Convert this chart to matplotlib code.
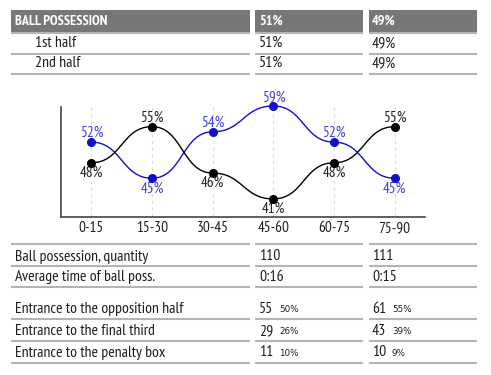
import numpy as np
import matplotlib
matplotlib.use("Agg")
import matplotlib.pyplot as plt
from matplotlib import font_manager
from matplotlib.font_manager import FontProperties
from matplotlib.path import Path
from matplotlib.patches import PathPatch

# ---- data ----
periods = ["0-15", "15-30", "30-45", "45-60", "60-75", "75-90"]
team_a = [52, 45, 54, 59, 52, 45]   # blue
team_b = [48, 55, 46, 41, 48, 55]   # black

header = ["BALL POSSESSION", "51%", "49%"]
half_rows = [["1st half", "51%", "49%"], ["2nd half", "51%", "49%"]]
stat_rows = [["Ball possession, quantity", "110", "111"],
             ["Average time of ball poss.", "0:16", "0:15"]]
entr_labels = ["Entrance to the opposition half", "Entrance to the final third",
               "Entrance to the penalty box"]
entr_a = [55, 29, 11]
entr_a_pct = ["50%", "26%", "10%"]
entr_b = [61, 43, 10]
entr_b_pct = ["55%", "39%", "9%"]

# ---- font choice ----
ttf = font_manager.fontManager.ttflist
WMAP = {"normal": 400, "regular": 400, "book": 400, "bold": 700, "medium": 500,
        "light": 300, "semibold": 600, "demibold": 600}

def wnum(w):
    if isinstance(w, (int, float)):
        return int(w)
    return WMAP.get(str(w).lower(), 400)

prefs = ["PT Sans Narrow", "Ubuntu Condensed", "Roboto Condensed", "Fira Sans Condensed",
         "Asap Condensed", "Archivo Narrow", "Liberation Sans Narrow"]
reg_file = bold_file = None
for nm in prefs:
    cands = [f for f in ttf if f.name == nm and f.style == "normal"]
    regs = [f for f in cands if wnum(f.weight) == 400]
    if regs:
        reg_file = regs[0].fname
        bolds = sorted([f for f in cands if wnum(f.weight) >= 600], key=lambda f: wnum(f.weight))
        bold_file = bolds[0].fname if bolds else None
        break

def FP(size, bold=False):
    if bold and bold_file:
        return FontProperties(fname=bold_file, size=size)
    if reg_file and not bold:
        return FontProperties(fname=reg_file, size=size)
    return FontProperties(family="DejaVu Sans", size=size * 0.8,
                          weight="bold" if bold else "normal")

def FPsmall(size):
    return FontProperties(family="DejaVu Sans", size=size)

W, H = 491, 375
fig = plt.figure(figsize=(W / 100, H / 100), dpi=100)

tab = fig.add_axes([0, 0, 1, 1])
tab.set_xlim(0, W)
tab.set_ylim(H, 0)
tab.axis("off")

cols = [(11, 250), (255, 363), (369, 477)]
text_x = [15, 259, 372]
txtc = "#1e1e1e"
linec = "#b4b4b4"
fs = 11.3

def hline(y):
    for x0, x1 in cols:
        tab.plot([x0, x1], [y, y], color=linec, lw=1.5, solid_capstyle="butt")

for (x0, x1), tx, t in zip(cols, text_x, header):
    tab.add_patch(plt.Rectangle((x0, 10), x1 - x0, 22, color="#777777", lw=0))
    tab.text(tx, 21.5, t, color="white", fontproperties=FP(10.2, True), va="center", ha="left")
hline(33)
for row, y, ly in zip(half_rows, [43, 63], [53.5, 74]):
    tab.text(35, y, row[0], color=txtc, fontproperties=FP(fs), va="center")
    tab.text(text_x[1], y, row[1], color=txtc, fontproperties=FP(fs), va="center")
    tab.text(text_x[2], y, row[2], color=txtc, fontproperties=FP(fs), va="center")
    hline(ly)

hline(244)
for row, y, ly in zip(stat_rows, [256.5, 277], [266, 287]):
    for tx, t in zip(text_x, row):
        tab.text(tx, y, t, color=txtc, fontproperties=FP(fs), va="center")
    hline(ly)
for i, (lab, y, ly) in enumerate(zip(entr_labels, [309, 331, 352.5], [319, 341, 363])):
    tab.text(text_x[0], y, lab, color=txtc, fontproperties=FP(fs), va="center")
    tab.text(text_x[1], y, str(entr_a[i]), color=txtc, fontproperties=FP(fs), va="center")
    tab.text(279, y + 1, entr_a_pct[i], color=txtc, fontproperties=FPsmall(6.3), va="center")
    tab.text(text_x[2], y, str(entr_b[i]), color=txtc, fontproperties=FP(fs), va="center")
    tab.text(392, y + 1, entr_b_pct[i], color=txtc, fontproperties=FPsmall(6.3), va="center")
    hline(ly)

# ---- chart ----
ax = fig.add_axes([61 / W, 1 - 217 / H, (425 - 61) / W, (217 - 107) / H])
ax.set_xlim(-0.5, 5.5)
ax.set_ylim(37.5, 58.8)
for s in ["top", "right"]:
    ax.spines[s].set_visible(False)
for s in ["left", "bottom"]:
    ax.spines[s].set_color("#444444")
    ax.spines[s].set_linewidth(1.2)
ax.set_yticks([])
x = np.arange(len(periods))
ax.set_xticks(x)
ax.set_xticklabels(periods, color=txtc)
for lbl in ax.get_xticklabels():
    lbl.set_fontproperties(FP(11))
ax.tick_params(axis="x", length=0, pad=3)
for xi in x:
    ax.axvline(xi, color="#dddddd", lw=0.8, ls=(0, (3, 3)), zorder=0)

def bump_path(xs, ys):
    verts = [(xs[0], ys[0])]
    codes = [Path.MOVETO]
    for i in range(len(xs) - 1):
        xm = (xs[i] + xs[i + 1]) / 2
        verts += [(xm, ys[i]), (xm, ys[i + 1]), (xs[i + 1], ys[i + 1])]
        codes += [Path.CURVE4] * 3
    return Path(verts, codes)

blue = "#1010cc"
for vals, other, c, lc in [(team_a, team_b, blue, "#4040e0"), (team_b, team_a, "black", "#222222")]:
    ax.add_patch(PathPatch(bump_path(x, vals), facecolor="none", edgecolor=c, lw=1.0,
                           clip_on=False, zorder=3))
    ax.plot(x, vals, "o", color=c, ms=5.5, clip_on=False, zorder=4)
    for xi, v, o in zip(x, vals, other):
        off = 6.5 if v >= o else -7.3
        ax.annotate(f"{v}%", (xi, v), xytext=(0, off), textcoords="offset points",
                    ha="center", va="center", color=lc, fontproperties=FP(11),
                    annotation_clip=False)

fig.savefig("out.png", dpi=100)
